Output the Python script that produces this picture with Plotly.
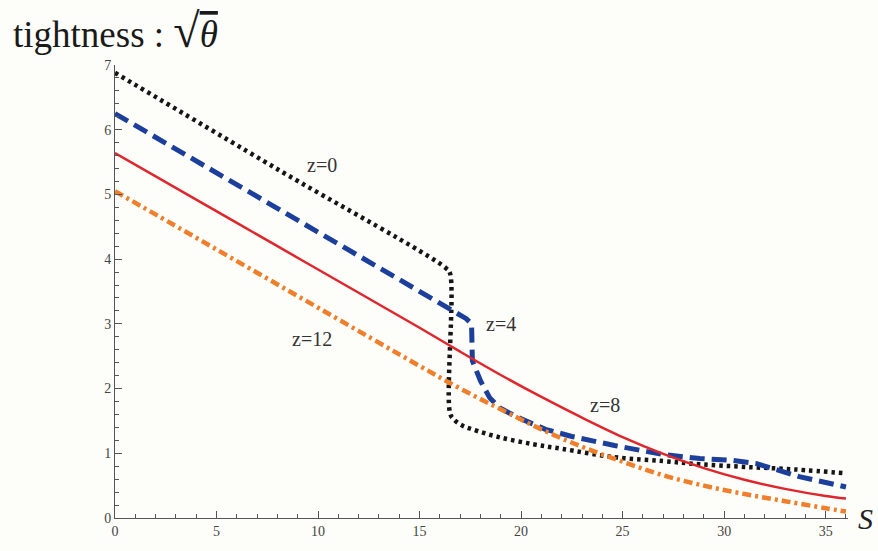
import plotly.graph_objects as go

# z=0 (black dotted)
z0_x = [0, 8, 16.3, 16.5, 16.5, 16.7, 17.1, 17.6, 18.9, 20.6, 22, 24.6, 27, 28.8, 31, 33.5, 36]
z0_y = [6.88, 5.39, 3.86, 3.78, 1.62, 1.52, 1.43, 1.37, 1.25, 1.14, 1.07, 0.94, 0.88, 0.83, 0.79, 0.75, 0.69]

# z=4 (blue dashed)
z4_x = [0, 8, 14.0, 16.48, 17.3, 17.56, 17.6, 18.0, 18.45, 18.9, 19.8, 21.2, 22.5, 24.6, 27, 28.8, 30.4, 31.6, 33.7, 36]
z4_y = [6.25, 4.78, 3.67, 3.21, 3.08, 3.0, 2.43, 2.12, 1.86, 1.71, 1.56, 1.37, 1.26, 1.12, 0.98, 0.92, 0.89, 0.84, 0.64, 0.48]

# z=8 (red solid)
z8_x = [0, 4, 8, 12, 15, 17, 19, 21, 23, 25, 27, 29, 31, 33, 35, 36]
z8_y = [5.64, 4.92, 4.2, 3.48, 2.94, 2.57, 2.21, 1.87, 1.55, 1.25, 0.99, 0.77, 0.59, 0.45, 0.34, 0.30]

# z=12 (orange dash-dot)
z12_x = [0, 5, 10, 15, 17, 19, 21, 23, 25, 27, 29, 31, 33, 35, 36]
z12_y = [5.05, 4.15, 3.25, 2.35, 2.0, 1.68, 1.37, 1.1, 0.87, 0.66, 0.5, 0.37, 0.26, 0.15, 0.1]

labels = ["z=0", "z=4", "z=8", "z=12"]
label_x = [10.2, 19.0, 24.15, 9.7]
label_y = [5.45, 3.0, 1.75, 2.77]

serif = "Liberation Serif"

fig = go.Figure()
fig.add_trace(go.Scatter(x=z0_x, y=z0_y, mode="lines", line=dict(color="#151515", width=4.5, dash="3.5px,4px"), line_shape="spline", showlegend=False))
fig.add_trace(go.Scatter(x=z4_x, y=z4_y, mode="lines", line=dict(color="#1c3f9c", width=5, dash="15px,7px"), showlegend=False))
fig.add_trace(go.Scatter(x=z8_x, y=z8_y, mode="lines", line=dict(color="#e0262d", width=2.5), line_shape="spline", showlegend=False))
fig.add_trace(go.Scatter(x=z12_x, y=z12_y, mode="lines", line=dict(color="#f07f2c", width=4.5, dash="9px,4px,3px,4px"), line_shape="spline", showlegend=False))

for t, x, y in zip(labels, label_x, label_y):
    fig.add_annotation(x=x, y=y, text=t, showarrow=False, font=dict(family=serif, size=20, color="#333"))

fig.add_annotation(xref="paper", yref="paper", x=1.0, y=0.0, xanchor="left", yanchor="middle", xshift=8,
                   text="<i>S</i>", showarrow=False, font=dict(family=serif, size=30, color="#222"))

fig.add_annotation(xref="paper", yref="paper", x=0, y=1, xanchor="left", yanchor="bottom", xshift=-104, yshift=6,
                   text="tightness : <span style='font-size:48px'>√</span><span style='text-decoration:overline'><i>θ</i></span>",
                   showarrow=False, font=dict(family=serif, size=37, color="#1a1a1a"))

axis_common = dict(showline=True, linecolor="#555", linewidth=1, ticks="inside", tickcolor="#555",
                   ticklen=7, showgrid=False, zeroline=False, tickfont=dict(family=serif, size=14, color="#444"))

fig.update_xaxes(range=[0, 36.1], tick0=0, dtick=5, minor=dict(dtick=1, ticks="inside", ticklen=4, tickcolor="#555"), **axis_common)
fig.update_yaxes(range=[0, 7], tick0=0, dtick=1, minor=dict(dtick=0.2, ticks="inside", ticklen=4, tickcolor="#555"), **axis_common)

fig.update_layout(width=878, height=551, margin=dict(l=115, r=30, t=65, b=30),
                  paper_bgcolor="#fdfdf9", plot_bgcolor="#fdfdf9")

fig.write_html("out.html")
